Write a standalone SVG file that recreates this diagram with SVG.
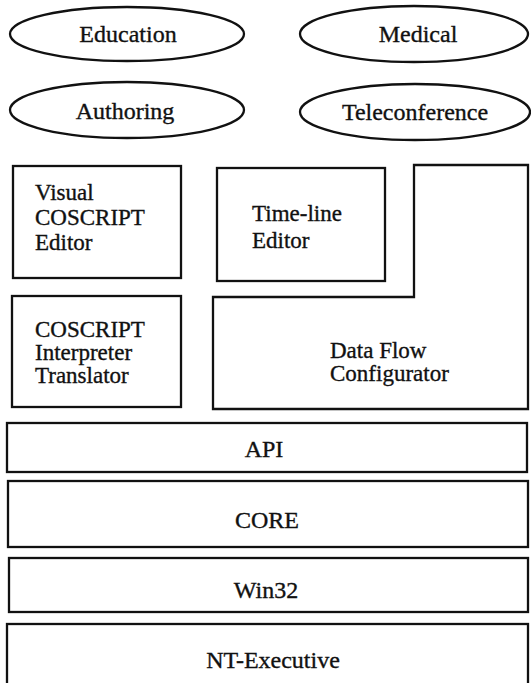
<svg xmlns="http://www.w3.org/2000/svg" width="531" height="683" viewBox="0 0 531 683">
<style>
.s{fill:none;stroke:#111;stroke-width:2.3}
text{font-family:"Liberation Serif","Times New Roman",serif;font-size:24px;fill:#111;stroke:#111;stroke-width:0.35}
.m{font-size:23px}
.c{text-anchor:middle}
</style>
<rect width="531" height="683" fill="#fff"/>
<g id="education"><ellipse class="s" cx="127" cy="34" rx="117" ry="27"/><text class="c" x="128" y="42">Education</text></g>
<g id="medical"><ellipse class="s" cx="414" cy="34" rx="114" ry="28"/><text class="c" x="418" y="42">Medical</text></g>
<g id="authoring"><ellipse class="s" cx="127" cy="110" rx="117" ry="28"/><text class="c" x="125" y="119">Authoring</text></g>
<g id="teleconference"><ellipse class="s" cx="415" cy="112" rx="115" ry="28"/><text class="c" x="415" y="120">Teleconference</text></g>
<g id="visual-editor"><rect class="s" x="13" y="166" width="168" height="112"/><text class="m" x="35" y="200">Visual</text><text class="m" x="35" y="225">COSCRIPT</text><text class="m" x="35" y="250">Editor</text></g>
<g id="timeline-editor"><rect class="s" x="217" y="168" width="168" height="113"/><text class="m" x="252" y="221">Time-line</text><text class="m" x="252" y="248">Editor</text></g>
<g id="dataflow"><path class="s" d="M414 165 H528 V409 H213 V297 H414 Z"/><text class="m" x="330" y="358">Data Flow</text><text class="m" x="330" y="381">Configurator</text></g>
<g id="interpreter"><rect class="s" x="12" y="296" width="169" height="111"/><text class="m" x="35" y="337">COSCRIPT</text><text class="m" x="35" y="360">Interpreter</text><text class="m" x="35" y="383">Translator</text></g>
<g id="api"><rect class="s" x="7" y="423" width="520" height="49"/><text class="c" x="264" y="457">API</text></g>
<g id="core"><rect class="s" x="8" y="481" width="520" height="66"/><text class="c" x="267" y="528">CORE</text></g>
<g id="win32"><rect class="s" x="9" y="558" width="519" height="54"/><text class="c" x="266" y="598">Win32</text></g>
<g id="nt-executive"><rect class="s" x="7" y="624" width="521" height="62"/><text class="c" x="273" y="668">NT-Executive</text></g>
<g id="connectors"></g>
</svg>
